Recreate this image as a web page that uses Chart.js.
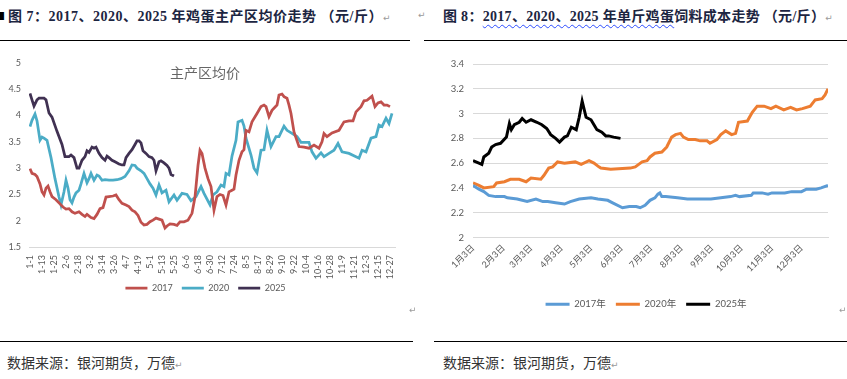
<!DOCTYPE html>
<html><head><meta charset="utf-8">
<script src="https://cdn.jsdelivr.net/npm/chart.js@4.4.1/dist/chart.umd.min.js"></script>
<style>
body{margin:0;width:847px;height:379px;background:#fff;position:relative;overflow:hidden;font-family:"Noto Sans CJK SC",sans-serif;}
.t{position:absolute;white-space:nowrap;}
.hd{font-family:"Liberation Serif","Noto Sans CJK SC",serif;font-weight:bold;font-size:14px;line-height:18px;color:#1c2541;top:8px;letter-spacing:0.5px;}
.rule{position:absolute;height:1px;background:#000;}
.ft{font-size:14px;line-height:18px;color:#333;top:353px;}
.mk{font-size:9px;color:#9a9a9a;font-weight:normal;font-family:"DejaVu Sans";letter-spacing:0;}
canvas{position:absolute;}
.wavy{text-decoration:underline wavy #2b4bff;text-decoration-thickness:1px;text-underline-offset:3px;}
</style></head><body>
<div class="t" style="left:-5px;top:9px;font-size:10px;line-height:14px;">■</div>
<div class="t hd" style="left:8px;">图 7：2017、2020、2025 年鸡蛋主产区均价走势 （元/斤）<span class="mk">↵</span></div>
<div class="t mk" style="left:418px;top:10px;">↵</div>
<div class="t hd" style="left:443px;letter-spacing:0.3px;">图 8：<span class="wavy">2017、2020、2025 年单斤鸡蛋</span>饲料成本走势 （元/斤）<span class="mk">↵</span></div>
<div class="rule" style="left:0;top:40px;width:410px;"></div>
<div class="rule" style="left:424px;top:40px;width:423px;"></div>
<canvas id="c1" width="412" height="282" style="left:0;top:40px;"></canvas>
<canvas id="c2" width="423" height="282" style="left:424px;top:40px;"></canvas>
<div class="t" style="left:160px;top:62px;width:90px;text-align:center;font-size:14px;line-height:20px;color:#666;">主产区均价</div>
<div class="t mk" style="left:409px;top:305px;">↵</div>
<div class="t mk" style="left:839px;top:305px;">↵</div>
<div class="rule" style="left:0;top:341px;width:413px;"></div>
<div class="rule" style="left:434px;top:341px;width:413px;"></div>
<div class="t ft" style="left:7px;">数据来源：银河期货，万德<span class="mk">↵</span></div>
<div class="t ft" style="left:443px;">数据来源：银河期货，万德<span class="mk">↵</span></div>
<script>
// ---------- Left chart: 主产区均价 (day of year) ----------
const tickDaysL = [1,13,25,37,49,61,73,85,97,109,121,133,145,157,169,181,193,205,217,229,241,253,265,277,289,301,313,325,337,349,361];
const tickLabelsL = ['1-1','1-13','1-25','2-6','2-18','3-2','3-14','3-26','4-7','4-19','5-1','5-13','5-25','6-6','6-18','6-30','7-12','7-24','8-5','8-17','8-29','9-10','9-22','10-4','10-16','10-28','11-9','11-21','12-3','12-15','12-27'];

const egg2017Days = [1,3,6,8,11,13,15,17,19,21,23,27,31,34,37,40,43,46,50,53,56,58,62,65,68,71,74,77,80,84,87,90,93,97,100,103,106,109,112,115,118,121,124,127,130,133,136,138,141,145,148,151,155,159,163,166,169,171,173,176,179,182,185,188,191,194,197,200,203,205,207,210,213,215,217,220,223,228,232,235,237,240,243,248,250,253,255,258,260,262,265,270,275,280,285,290,293,295,298,303,310,315,320,324,327,332,335,338,343,346,349,352,355,358,361];
const egg2017 = [2.99,2.9,2.88,2.84,2.7,2.55,2.49,2.62,2.66,2.55,2.46,2.4,2.32,2.26,2.22,2.23,2.17,2.14,2.17,2.12,2.08,2.12,2.06,2.04,2.12,2.23,2.25,2.45,2.46,2.47,2.49,2.4,2.33,2.3,2.27,2.2,2.17,2.1,1.97,1.92,1.93,1.98,2.01,2.05,2.03,2.01,1.86,1.9,1.94,1.93,1.91,1.98,1.98,2.01,2.14,2.45,3.05,3.34,3.28,3.0,2.8,2.65,2.2,2.46,2.5,2.48,2.3,2.55,2.58,2.6,2.87,3.15,3.31,3.35,3.72,3.69,3.88,4.04,4.17,4.2,4.17,3.98,4.1,4.2,4.39,4.41,4.36,4.33,4.2,4.04,3.69,3.41,3.4,3.38,3.44,3.38,3.5,3.66,3.6,3.67,3.72,3.88,3.9,3.9,4.07,4.17,4.28,4.29,4.37,4.17,4.24,4.26,4.2,4.2,4.17];

const egg2020Days = [1,3,6,8,11,13,15,18,22,26,30,32,35,37,39,41,43,45,47,50,52,55,58,60,62,65,68,70,73,76,80,84,88,92,96,100,103,106,108,112,115,118,121,124,127,130,133,137,140,145,148,153,158,162,167,172,175,181,184,188,192,195,197,200,203,207,209,213,215,217,222,225,228,232,235,238,242,247,250,255,258,263,268,272,280,283,287,292,295,300,305,309,313,320,330,333,337,342,347,350,353,357,360,363];
const egg2020 = [3.79,3.91,4.03,3.9,3.53,3.59,3.57,3.53,3.2,2.8,2.45,2.3,2.55,2.77,2.62,2.4,2.34,2.45,2.53,2.58,2.7,2.9,2.72,2.8,2.9,2.77,2.87,2.85,2.77,2.78,2.77,2.77,2.78,2.8,2.84,2.95,3.06,3.05,3.0,2.95,2.9,2.8,2.7,2.62,2.49,2.68,2.53,2.58,2.36,2.49,2.39,2.52,2.5,2.38,2.46,2.65,2.52,2.3,2.49,2.55,2.68,2.65,2.9,2.87,3.23,3.53,3.88,3.91,3.8,3.57,3.25,3.0,2.91,3.34,3.35,3.72,3.41,3.6,3.6,3.8,3.72,3.66,3.6,3.49,3.49,3.31,3.19,3.29,3.22,3.28,3.34,3.47,3.31,3.28,3.19,3.34,3.31,3.57,3.6,3.82,3.79,3.95,3.85,4.04];

const egg2025Days = [1,3,5,8,10,15,17,20,23,28,33,36,40,42,45,48,50,53,56,58,60,63,65,67,70,73,76,78,80,83,86,90,93,95,97,100,103,106,108,110,112,114,117,120,123,125,127,130,132,135,138,140,142,145];
const egg2025 = [4.42,4.3,4.18,4.3,4.33,4.33,4.3,4.05,3.97,3.7,3.45,3.22,3.22,3.25,3.2,3.0,3.0,3.15,3.22,3.33,3.3,3.4,3.38,3.4,3.28,3.2,3.15,3.23,3.2,3.15,3.12,3.08,3.06,3.06,3.2,3.28,3.35,3.45,3.52,3.52,3.48,3.33,3.28,3.22,3.2,3.15,2.95,3.12,3.14,3.1,3.05,3.0,2.88,2.85];

// ---------- Right chart: 单斤鸡蛋饲料成本 (days since 1月3日) ----------
const tickDaysR = [0,31,59,90,120,151,181,212,243,273,304,334];
const tickLabelsR = ['1月3日','2月3日','3月3日','4月3日','5月3日','6月3日','7月3日','8月3日','9月3日','10月3日','11月3日','12月3日'];

const feed2017Days = [0,6,11,16,23,32,35,45,55,64,71,76,84,93,99,108,120,127,137,142,152,159,166,170,175,180,185,188,190,192,196,208,218,225,232,242,252,262,267,271,283,285,294,300,304,317,324,334,339,349,354,361];
const feed2017 = [2.42,2.39,2.37,2.34,2.33,2.33,2.32,2.31,2.29,2.31,2.29,2.29,2.28,2.27,2.29,2.31,2.32,2.31,2.30,2.28,2.24,2.25,2.25,2.24,2.26,2.30,2.32,2.35,2.36,2.33,2.33,2.32,2.31,2.31,2.31,2.31,2.32,2.33,2.34,2.33,2.34,2.36,2.36,2.35,2.36,2.36,2.37,2.37,2.39,2.39,2.40,2.42];

const feed2020Days = [0,6,11,21,24,32,38,47,54,59,69,72,77,81,86,93,104,110,118,123,128,130,140,160,165,172,177,180,185,192,197,202,206,211,214,219,226,231,238,241,248,252,257,263,267,270,279,284,289,296,303,308,316,323,329,335,343,348,355,358,361];
const feed2020 = [2.44,2.42,2.40,2.41,2.44,2.45,2.47,2.47,2.45,2.48,2.47,2.50,2.56,2.57,2.61,2.60,2.61,2.59,2.62,2.60,2.57,2.56,2.55,2.56,2.57,2.61,2.62,2.65,2.68,2.69,2.73,2.81,2.83,2.84,2.81,2.79,2.79,2.78,2.78,2.76,2.79,2.83,2.86,2.83,2.84,2.93,2.94,3.01,3.06,3.06,3.04,3.06,3.03,3.05,3.03,3.04,3.06,3.11,3.12,3.15,3.20];

const feed2025Days = [0,6,9,11,16,19,23,28,34,37,39,42,47,50,54,59,65,70,75,79,84,88,93,96,100,105,108,111,115,120,123,126,131,135,138,143,150];
const feed2025 = [2.62,2.60,2.59,2.65,2.68,2.73,2.75,2.76,2.81,2.92,2.87,2.91,2.93,2.96,2.93,2.95,2.93,2.91,2.88,2.83,2.80,2.77,2.81,2.82,2.89,2.87,2.97,3.10,2.97,2.95,2.91,2.87,2.85,2.82,2.82,2.81,2.80];

const pts = (xs, ys) => xs.map((x, i) => ({x, y: ys[i]}));
const fmt = v => String(+(+v).toFixed(1));
const TXT = '#595959';
Chart.defaults.font.family = 'Lato, "Noto Sans CJK SC", sans-serif';
Chart.defaults.color = TXT;

function line(label, xs, ys, color, w) {
  return {label, data: pts(xs, ys), borderColor: color, backgroundColor: color,
    borderWidth: w, pointRadius: 0, tension: 0, fill: false, pointStyle: 'line'};
}
// nudges the legend box after layout so it sits where the reference legend is
const shiftLegend = (dx, dy) => ({id: 'shiftLegend', afterLayout(chart) {
  const l = chart.legend; if (!l) return;
  l.left += dx; l.right += dx; l.top += dy; l.bottom += dy;
}});

new Chart(document.getElementById('c1'), {
  type: 'line',
  data: {datasets: [
    line('2017', egg2017Days, egg2017, '#c0504d', 2.75),
    line('2020', egg2020Days, egg2020, '#4bacc6', 2.75),
    line('2025', egg2025Days, egg2025, '#403152', 2.75)
  ]},
  plugins: [shiftLegend(5, -10.5)],
  options: {
    responsive: false, animation: false, events: [],
    layout: {padding: {left: 6, right: 17, top: 23, bottom: 9}},
    plugins: {
      tooltip: {enabled: false},
      legend: {position: 'bottom', labels: {usePointStyle: true, pointStyleWidth: 22, padding: 9, font: {size: 9}, color: TXT}}
    },
    scales: {
      x: {type: 'linear', min: 0, max: 366,
        afterBuildTicks: s => { s.ticks = tickDaysL.map(v => ({value: v})); },
        afterFit: s => { s.height = 38; },
        grid: {display: false, drawTicks: false},
        border: {display: true, color: '#d9d9d9', width: 1},
        ticks: {autoSkip: false, minRotation: 90, maxRotation: 90, padding: 8, font: {size: 9}, color: TXT,
          callback: (v, i) => tickLabelsL[i]}
      },
      y: {min: 1.5, max: 5,
        afterFit: s => { s.width = 23; },
        grid: {display: false, drawTicks: false},
        border: {display: false},
        ticks: {stepSize: 0.5, padding: 8, font: {size: 9}, color: TXT, callback: v => fmt(v)}
      }
    }
  }
});

new Chart(document.getElementById('c2'), {
  type: 'line',
  data: {datasets: [
    line('2017年', feed2017Days, feed2017, '#5b9bd5', 3),
    line('2020年', feed2020Days, feed2020, '#ed7d31', 3),
    line('2025年', feed2025Days, feed2025, '#000000', 3)
  ]},
  plugins: [shiftLegend(8, 0)],
  options: {
    responsive: false, animation: false, events: [],
    layout: {padding: {left: 24, right: 19, top: 24, bottom: 3}},
    plugins: {
      tooltip: {enabled: false},
      legend: {position: 'bottom', labels: {usePointStyle: true, pointStyleWidth: 24, padding: 10, font: {size: 9.5}, color: TXT}}
    },
    scales: {
      x: {type: 'linear', min: 0, max: 361,
        afterBuildTicks: s => { s.ticks = tickDaysR.map(v => ({value: v})); },
        afterFit: s => { s.height = 52; },
        grid: {display: false, drawTicks: false},
        border: {display: true, color: '#d9d9d9', width: 1},
        ticks: {autoSkip: false, minRotation: 45, maxRotation: 45, padding: 5, font: {size: 9}, color: TXT,
          callback: (v, i) => tickLabelsR[i]}
      },
      y: {min: 2, max: 3.4,
        afterFit: s => { s.width = 25; },
        grid: {color: '#d9d9d9', lineWidth: 1, drawTicks: false},
        border: {display: false},
        ticks: {stepSize: 0.2, padding: 9, font: {size: 9.5}, color: TXT, callback: v => fmt(v)}
      }
    }
  }
});
</script>
</body></html>
